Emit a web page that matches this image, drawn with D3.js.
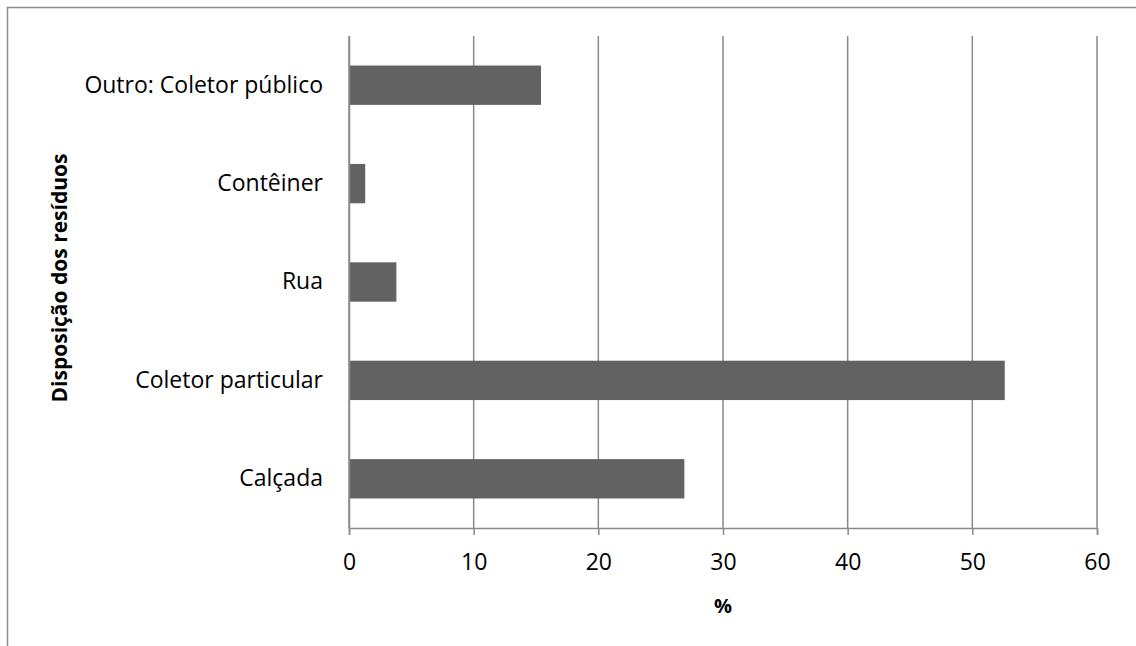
<!DOCTYPE html>
<html>
<head>
<meta charset="utf-8">
<script src="https://cdn.jsdelivr.net/npm/d3@7"></script>
<style>
  html, body { margin: 0; padding: 0; background: #fff; }
  svg { display: block; }
  text { font-family: "Open Sans", sans-serif; fill: #000; }
</style>
</head>
<body>
<svg id="chart" width="1136" height="646"></svg>
<script>
// Disposição dos resíduos (%)
const categories = ["Calçada", "Coletor particular", "Rua", "Contêiner", "Outro: Coletor público"];
const values = [26.9, 52.6, 3.8, 1.3, 15.4];
const xTicks = [0, 10, 20, 30, 40, 50, 60];
const xTitle = "%";
const yTitle = "Disposição dos resíduos";

const FONT = "'Open Sans', sans-serif";
const svg = d3.select("#chart");
const W = 1136, H = 646;
const margin = { left: 349, right: W - 1097, top: 36, bottom: H - 528 };

// chart frame
svg.append("rect")
  .attr("x", 7.5).attr("y", 7.5)
  .attr("width", W + 20).attr("height", H + 20)
  .attr("fill", "none").attr("stroke", "#8c8c8c").attr("stroke-width", 1.5);

const x = d3.scaleLinear().domain([0, 60]).range([margin.left, W - margin.right]);
const y = d3.scaleBand()
  .domain(categories.slice().reverse())
  .range([margin.top, H - margin.bottom])
  .paddingInner(0.6).paddingOuter(0.3);

// vertical gridlines
svg.append("g")
  .selectAll("line")
  .data(xTicks)
  .join("line")
  .attr("x1", d => x(d)).attr("x2", d => x(d))
  .attr("y1", margin.top).attr("y2", H - margin.bottom)
  .attr("stroke", "#8a8a8a").attr("stroke-width", 1.5);

// bars
svg.append("g")
  .selectAll("rect")
  .data(categories.map((c, i) => ({ c, v: values[i] })))
  .join("rect")
  .attr("x", x(0))
  .attr("y", d => y(d.c))
  .attr("width", d => x(d.v) - x(0))
  .attr("height", y.bandwidth())
  .attr("fill", "#626262");

// x axis
const xAxis = d3.axisBottom(x).tickValues(xTicks).tickSize(7).tickPadding(19).tickFormat(d3.format("d"));
const gx = svg.append("g")
  .attr("transform", `translate(0,${H - margin.bottom})`)
  .call(xAxis);
gx.select(".domain").attr("stroke", "#8a8a8a").attr("stroke-width", 1.5);
gx.selectAll(".tick line").attr("stroke", "#8a8a8a").attr("stroke-width", 1.5);
gx.selectAll(".tick text").attr("font-size", 23).attr("font-family", FONT).attr("fill", "#000");

// y axis (category labels)
const yAxis = d3.axisLeft(y).tickSize(0).tickPadding(26);
const gy = svg.append("g")
  .attr("transform", `translate(${margin.left},0)`)
  .call(yAxis);
gy.select(".domain").attr("stroke", "#8a8a8a").attr("stroke-width", 1.5);
gy.selectAll(".tick text").attr("font-size", 23).attr("font-family", FONT).attr("fill", "#000");

// axis titles
svg.append("text")
  .attr("x", x(30)).attr("y", 613)
  .attr("text-anchor", "middle")
  .attr("font-size", 20).attr("font-weight", "bold")
  .text(xTitle);

svg.append("text")
  .attr("transform", `translate(67,${(margin.top + H - margin.bottom) / 2 - 4}) rotate(-90)`)
  .attr("text-anchor", "middle")
  .attr("font-size", 21).attr("font-weight", "bold")
  .text(yTitle);
</script>
</body>
</html>
